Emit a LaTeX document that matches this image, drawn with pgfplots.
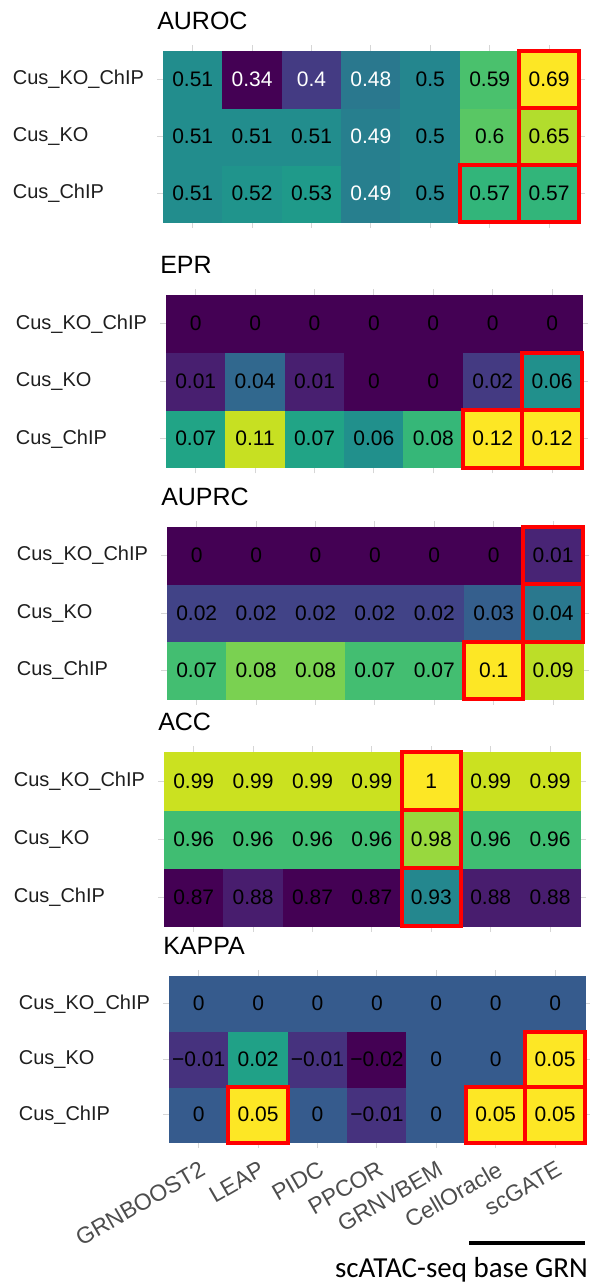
\documentclass[border=0pt]{standalone}
\usepackage{fontspec}
\setmainfont{Liberation Sans}
\newfontfamily\calibri{Carlito}
\usepackage{pgfplots}
\pgfplotsset{compat=1.18}
\usepackage{pgfplotstable}
\definecolor{gridc}{RGB}{214,214,214}
\definecolor{labc}{RGB}{30,30,30}
\definecolor{xlabc}{RGB}{77,77,77}

% w = 1 : value written in white
\pgfplotstableread{
x y v w
0 0 0.51 0
1 0 0.52 0
2 0 0.53 0
3 0 0.49 1
4 0 0.50 0
5 0 0.57 0
6 0 0.57 0
0 1 0.51 0
1 1 0.51 0
2 1 0.51 0
3 1 0.49 1
4 1 0.50 0
5 1 0.60 0
6 1 0.65 0
0 2 0.51 0
1 2 0.34 1
2 2 0.40 1
3 2 0.48 1
4 2 0.50 0
5 2 0.59 0
6 2 0.69 0
}\auroc

\pgfplotstableread{
x y v
0 0 0.07
1 0 0.11
2 0 0.07
3 0 0.06
4 0 0.08
5 0 0.12
6 0 0.12
0 1 0.01
1 1 0.04
2 1 0.01
3 1 0
4 1 0
5 1 0.02
6 1 0.06
0 2 0
1 2 0
2 2 0
3 2 0
4 2 0
5 2 0
6 2 0
}\epr

\pgfplotstableread{
x y v
0 0 0.07
1 0 0.08
2 0 0.08
3 0 0.07
4 0 0.07
5 0 0.10
6 0 0.09
0 1 0.02
1 1 0.02
2 1 0.02
3 1 0.02
4 1 0.02
5 1 0.03
6 1 0.04
0 2 0
1 2 0
2 2 0
3 2 0
4 2 0
5 2 0
6 2 0.01
}\auprc

\pgfplotstableread{
x y v
0 0 0.87
1 0 0.88
2 0 0.87
3 0 0.87
4 0 0.93
5 0 0.88
6 0 0.88
0 1 0.96
1 1 0.96
2 1 0.96
3 1 0.96
4 1 0.98
5 1 0.96
6 1 0.96
0 2 0.99
1 2 0.99
2 2 0.99
3 2 0.99
4 2 1.00
5 2 0.99
6 2 0.99
}\acc

% a = absolute value, n = 1 for negative values
\pgfplotstableread{
x y v a n
0 0 0 0 0
1 0 0.05 0.05 0
2 0 0 0 0
3 0 -0.01 0.01 1
4 0 0 0 0
5 0 0.05 0.05 0
6 0 0.05 0.05 0
0 1 -0.01 0.01 1
1 1 0.02 0.02 0
2 1 -0.01 0.01 1
3 1 -0.02 0.02 1
4 1 0 0 0
5 1 0 0 0
6 1 0.05 0.05 0
0 2 0 0 0
1 2 0 0 0
2 2 0 0 0
3 2 0 0 0
4 2 0 0 0
5 2 0 0 0
6 2 0 0 0
}\kappatab

\tikzset{rbox/.style={draw=red, line width=4pt}}
\pgfplotsset{
  hm/.style={
    scale only axis, width=427.7pt, height=#1,
    xmin=-0.6, xmax=6.6, ymin=-0.6, ymax=2.6,
    axis line style={draw=none}, tick style={draw=none},
    xtick={0,...,6}, ytick={0,1,2},
    xmajorgrids, ymajorgrids, grid style={gridc, line width=0.9pt},
    xticklabels={}, yticklabels={Cus\_ChIP,Cus\_KO,Cus\_KO\_ChIP},
    yticklabel style={font=\fontsize{20}{24}\selectfont, text=labc, anchor=east,
      inner sep=0pt, text width=133pt, align=left, xshift=-11pt},
    colormap/viridis, anchor=north west, clip=false,
  },
  cells/.style={matrix plot*, mesh/cols=7, point meta=explicit},
  txt/.style={only marks, mark=*, mark size=0pt, mark options={draw=none, fill=none},
    point meta=explicit,
    nodes near coords={\pgfmathprintnumber[fixed, precision=2, assume math mode=true]{\pgfplotspointmeta}},
    nodes near coords style={font=\fontsize{21}{24}\selectfont, text=#1, anchor=center, inner sep=0pt}},
  txt/.default=black,
}

\begin{document}
\begin{tikzpicture}[x=1pt,y=1pt]
\useasboundingbox (0pt,0pt) rectangle (589pt,-1282pt);

% AUROC
\begin{axis}[hm=182.4pt, at={(157.06pt,-45.3pt)}, point meta min=0.34, point meta max=0.69]
\addplot[cells] table[x=x,y=y,meta=v]{\auroc};
\draw[rbox] (axis cs:5.5,-0.5) rectangle (axis cs:6.5,0.5);
\draw[rbox] (axis cs:5.5,0.5) rectangle (axis cs:6.5,1.5);
\draw[rbox] (axis cs:5.5,1.5) rectangle (axis cs:6.5,2.5);
\draw[rbox] (axis cs:4.5,-0.5) rectangle (axis cs:5.5,0.5);
\addplot[txt=black, restrict expr to domain={\thisrow{w}}{-0.5:0.5}] table[x=x,y=y,meta=v]{\auroc};
\addplot[txt=white, restrict expr to domain={\thisrow{w}}{0.5:1.5}] table[x=x,y=y,meta=v]{\auroc};
\end{axis}
\node[anchor=base west, inner sep=0pt, font=\fontsize{25}{30}\selectfont] at (157.06pt,-29pt) {AUROC};

% EPR
\begin{axis}[hm=184pt, at={(160.06pt,-289.25pt)}, point meta min=0, point meta max=0.12]
\addplot[cells] table[x=x,y=y,meta=v]{\epr};
\draw[rbox] (axis cs:5.5,0.5) rectangle (axis cs:6.5,1.5);
\draw[rbox] (axis cs:4.5,-0.5) rectangle (axis cs:5.5,0.5);
\draw[rbox] (axis cs:5.5,-0.5) rectangle (axis cs:6.5,0.5);
\addplot[txt] table[x=x,y=y,meta=v]{\epr};
\end{axis}
\node[anchor=base west, inner sep=0pt, font=\fontsize{25}{30}\selectfont] at (160.06pt,-273pt) {EPR};

% AUPRC
\begin{axis}[hm=183.4pt, at={(161.06pt,-521.3pt)}, point meta min=0, point meta max=0.1]
\addplot[cells] table[x=x,y=y,meta=v]{\auprc};
\draw[rbox] (axis cs:5.5,1.5) rectangle (axis cs:6.5,2.5);
\draw[rbox] (axis cs:5.5,0.5) rectangle (axis cs:6.5,1.5);
\draw[rbox] (axis cs:4.5,-0.5) rectangle (axis cs:5.5,0.5);
\addplot[txt] table[x=x,y=y,meta=v]{\auprc};
\end{axis}
\node[anchor=base west, inner sep=0pt, font=\fontsize{25}{30}\selectfont] at (161.06pt,-505pt) {AUPRC};

% ACC
\begin{axis}[hm=185.6pt, at={(158.06pt,-746.2pt)}, point meta min=0.87, point meta max=1]
\addplot[cells] table[x=x,y=y,meta=v]{\acc};
\draw[rbox] (axis cs:3.5,1.5) rectangle (axis cs:4.5,2.5);
\draw[rbox] (axis cs:3.5,0.5) rectangle (axis cs:4.5,1.5);
\draw[rbox] (axis cs:3.5,-0.5) rectangle (axis cs:4.5,0.5);
\addplot[txt] table[x=x,y=y,meta=v]{\acc};
\end{axis}
\node[anchor=base west, inner sep=0pt, font=\fontsize{25}{30}\selectfont] at (158.06pt,-730pt) {ACC};

% KAPPA
\begin{axis}[hm=177.6pt, at={(163.06pt,-970.45pt)}, point meta min=-0.02, point meta max=0.05,
  xticklabels={GRNBOOST2,LEAP,PIDC,PPCOR,GRNVBEM,CellOracle,scGATE},
  xticklabel style={yshift=-12pt, rotate=30, anchor=north east, inner sep=0pt,
    font=\fontsize{23}{27}\selectfont, text=xlabc}]
\addplot[cells] table[x=x,y=y,meta=v]{\kappatab};
\draw[rbox] (axis cs:5.5,0.5) rectangle (axis cs:6.5,1.5);
\draw[rbox] (axis cs:0.5,-0.5) rectangle (axis cs:1.5,0.5);
\draw[rbox] (axis cs:4.5,-0.5) rectangle (axis cs:5.5,0.5);
\draw[rbox] (axis cs:5.5,-0.5) rectangle (axis cs:6.5,0.5);
\addplot[txt, restrict expr to domain={\thisrow{n}}{-0.5:0.5}] table[x=x,y=y,meta=v]{\kappatab};
\addplot[txt, restrict expr to domain={\thisrow{n}}{0.5:1.5},
  nodes near coords={−\pgfmathprintnumber[fixed, precision=2, assume math mode=true]{\pgfplotspointmeta}}] table[x=x,y=y,meta=a]{\kappatab};
\end{axis}
\node[anchor=base west, inner sep=0pt, font=\fontsize{25}{30}\selectfont] at (163.06pt,-954pt) {KAPPA};

\draw[line width=4pt] (469pt,-1243pt) -- (585pt,-1243pt);
\node[anchor=base east, inner sep=0pt, font=\calibri\fontsize{29}{34}\selectfont] at (588pt,-1277pt) {scATAC-seq base GRN};
\end{tikzpicture}
\end{document}
